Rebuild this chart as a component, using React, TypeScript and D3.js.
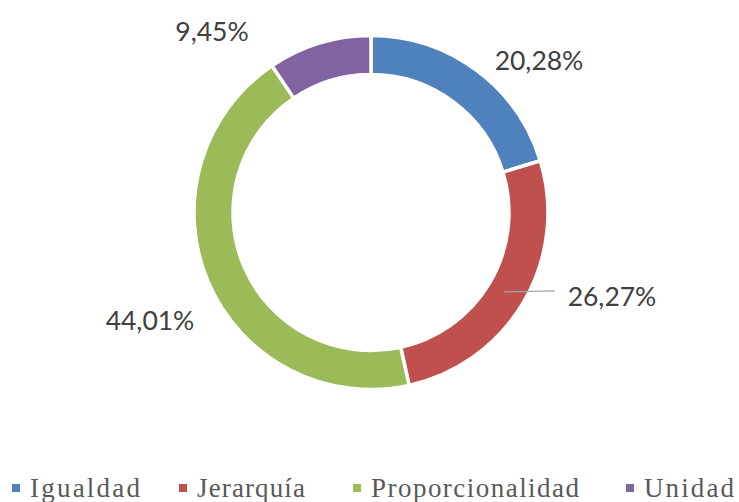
import React from "react";
import * as d3 from "d3";

const categories = ["Igualdad", "Jerarquía", "Proporcionalidad", "Unidad"];
const values = [20.28, 26.27, 44.01, 9.45];
const labels = ["20,28%", "26,27%", "44,01%", "9,45%"];
const colors = ["#4F81BD", "#C0504D", "#9BBB59", "#8064A2"];

const W = 739, H = 502;
const cx = 371, cy = 212.5, R = 177, r = 138;
// label centres (layout)
const labelPos: [number, number][] = [[539, 60], [612, 296], [150, 320], [212, 31]];
const legendX = [16, 183, 357, 630];
const legendW = [110, 108, 208, 90];

export default function App() {
  const pie = d3.pie<number>().sort(null).value((d) => d)(values);
  const arc = d3.arc<d3.PieArcDatum<number>>().innerRadius(r).outerRadius(R);
  const midArc = d3.arc<d3.PieArcDatum<number>>().innerRadius((r + R) / 2).outerRadius((r + R) / 2);
  const jc = midArc.centroid(pie[1]);
  return (
    <svg width={W} height={H} style={{ position: "absolute", left: 0, top: 0, background: "#fff" }}>
      <g transform={`translate(${cx},${cy})`}>
        {pie.map((p, i) => (
          <path key={i} d={arc(p) || ""} fill={colors[i]} stroke="#fff" strokeWidth={3.5} />
        ))}
        <line x1={jc[0] - 3} y1={jc[1]} x2={555 - cx} y2={jc[1] - 1} stroke="#A6A6A6" strokeWidth={1.2} />
      </g>
      {labels.map((l, i) => (
        <text key={i} x={labelPos[i][0]} y={labelPos[i][1]} textAnchor="middle" dominantBaseline="central"
          fontFamily="Lato, 'Noto Sans', sans-serif" fontSize={26.5} fill="#404040">{l}</text>
      ))}
      {categories.map((c, i) => (
        <g key={i}>
          <rect x={legendX[i] - 4} y={484} width={8} height={8} fill={colors[i]} />
          <text x={legendX[i] + 14} y={497} fontFamily="'Liberation Serif', serif" fontSize={27}
            textLength={legendW[i]} lengthAdjust="spacing" fill="#595959">{c}</text>
        </g>
      ))}
    </svg>
  );
}
